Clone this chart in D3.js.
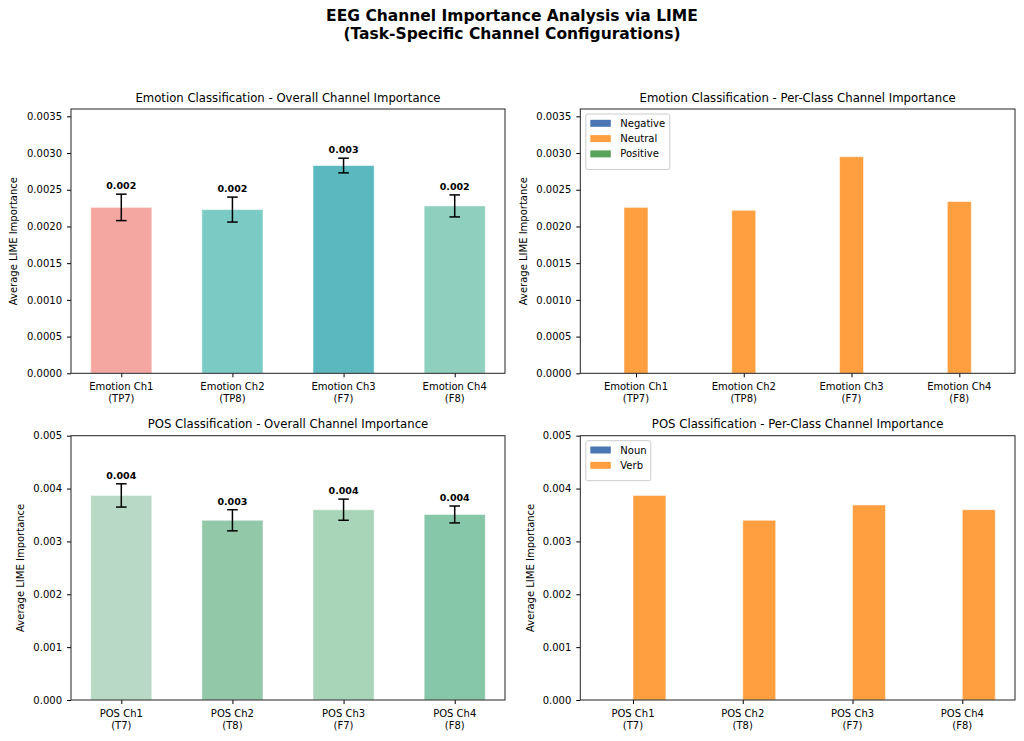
<!DOCTYPE html>
<html>
<head>
<meta charset="utf-8">
<script src="https://cdn.jsdelivr.net/npm/d3@7"></script>
<style>
  html, body { margin: 0; padding: 0; background: #fff; }
  svg { display: block; font-family: "DejaVu Sans", sans-serif; }
</style>
</head>
<body>
<svg id="chart" width="1024" height="741"></svg>
<script>
// ---------------- data ----------------
const emotionChannels = ["Emotion Ch1", "Emotion Ch2", "Emotion Ch3", "Emotion Ch4"];
const emotionElectrodes = ["TP7", "TP8", "F7", "F8"];
const emotionMean = [0.00226, 0.00223, 0.00283, 0.00228];
const emotionStd = [0.00018, 0.00017, 0.00010, 0.00015];
const emotionColors = ["#f4a6a1", "#7ccac4", "#5cb8bf", "#8ecfbd"];

const emotionClasses = ["Negative", "Neutral", "Positive"];
const emotionNegative = [0, 0, 0, 0];
const emotionNeutral = [0.00226, 0.00222, 0.00295, 0.00234];
const emotionPositive = [0, 0, 0, 0];

const posChannels = ["POS Ch1", "POS Ch2", "POS Ch3", "POS Ch4"];
const posElectrodes = ["T7", "T8", "F7", "F8"];
const posMean = [0.00387, 0.00340, 0.00360, 0.00351];
const posStd = [0.00022, 0.00020, 0.00020, 0.00016];
const posColors = ["#b8d9c6", "#92c8a8", "#a8d5b8", "#87c7a9"];

const posClasses = ["Noun", "Verb"];
const posNoun = [0, 0, 0, 0];
const posVerb = [0.00387, 0.00340, 0.00369, 0.00360];

const classColors = ["#4a77b4", "#ff9f40", "#59a45a"];

const emotionTicks = [0, 0.0005, 0.0010, 0.0015, 0.0020, 0.0025, 0.0030, 0.0035];
const posTicks = [0, 0.001, 0.002, 0.003, 0.004, 0.005];

// ---------------- layout ----------------
const svg = d3.select("#chart");
const W = 1024;

svg.append("text").attr("x", W / 2).attr("y", 20.5)
  .attr("text-anchor", "middle").attr("font-size", 15.5).attr("font-weight", "bold")
  .text("EEG Channel Importance Analysis via LIME");
svg.append("text").attr("x", W / 2).attr("y", 38.5)
  .attr("text-anchor", "middle").attr("font-size", 15.5).attr("font-weight", "bold")
  .text("(Task-Specific Channel Configurations)");

const colL = [71, 505], colR = [580.3, 1015];
const rowT = [109, 373.3], rowB = [435.7, 700];

function panel(opts) {
  const { xr, yr, title, channels, electrodes, ymax, ticks, fmt, ylabelX } = opts;
  const g = svg.append("g");
  const n = opts.series.length;
  const w = opts.barWidth;
  const lo = -((n - 1) / 2) * w - w / 2, hi = 3 + ((n - 1) / 2) * w + w / 2;
  const span = hi - lo;
  const x = d3.scaleLinear().domain([lo - 0.05 * span, hi + 0.05 * span]).range(xr);
  const y = d3.scaleLinear().domain([0, ymax]).range([yr[1], yr[0]]);

  // bars
  opts.series.forEach((vals, si) => {
    const off = (si - (n - 1) / 2) * w;
    g.selectAll(null).data(vals).enter().append("rect")
      .attr("x", (d, i) => x(i + off - w / 2))
      .attr("width", (d, i) => x(i + off + w / 2) - x(i + off - w / 2))
      .attr("y", d => y(d))
      .attr("height", d => y(0) - y(d))
      .attr("fill", (d, i) => opts.colorFn(si, i))
      .attr("stroke", "#fff").attr("stroke-opacity", 0.5).attr("stroke-width", 1);
  });

  // error bars + value labels
  if (opts.std) {
    const m = opts.series[0];
    m.forEach((v, i) => {
      const cx = x(i), t = y(v + opts.std[i]), b = y(v - opts.std[i]);
      g.append("line").attr("x1", cx).attr("x2", cx).attr("y1", t).attr("y2", b)
        .attr("stroke", "#000").attr("stroke-width", 1.5);
      [t, b].forEach(yy => g.append("line").attr("x1", cx - 5.3).attr("x2", cx + 5.3)
        .attr("y1", yy).attr("y2", yy).attr("stroke", "#000").attr("stroke-width", 1.5));
      g.append("text").attr("x", cx).attr("y", t - 5)
        .attr("text-anchor", "middle").attr("font-size", 9.5).attr("font-weight", "bold")
        .text(d3.format(".3f")(v));
    });
  }

  // y axis
  const ya = g.append("g").attr("transform", `translate(${xr[0]},0)`)
    .call(d3.axisLeft(y).tickValues(ticks).tickFormat(fmt).tickSize(4).tickPadding(5));
  ya.select(".domain").remove();
  ya.selectAll("text").attr("font-size", 10).attr("font-family", "DejaVu Sans").attr("fill", "#000");
  ya.selectAll("line").attr("stroke", "#000");

  // x axis
  const xa = g.append("g").attr("transform", `translate(0,${yr[1]})`)
    .call(d3.axisBottom(x).tickValues([0, 1, 2, 3]).tickFormat("").tickSize(4));
  xa.select(".domain").remove();
  xa.selectAll("line").attr("stroke", "#000");
  channels.forEach((c, i) => {
    const t = g.append("text").attr("x", x(i)).attr("y", yr[1] + 17)
      .attr("text-anchor", "middle").attr("font-size", 10).attr("fill", "#000");
    t.append("tspan").attr("x", x(i)).attr("dy", 0).text(c);
    t.append("tspan").attr("x", x(i)).attr("dy", 11.8).text("(" + electrodes[i] + ")");
  });

  // frame
  g.append("rect").attr("x", xr[0]).attr("y", yr[0])
    .attr("width", xr[1] - xr[0]).attr("height", yr[1] - yr[0])
    .attr("fill", "none").attr("stroke", "#222").attr("stroke-width", 1);

  // title
  g.append("text").attr("x", (xr[0] + xr[1]) / 2).attr("y", yr[0] - 7.5)
    .attr("text-anchor", "middle").attr("font-size", 11.7).text(title);

  // y label
  const cy = (yr[0] + yr[1]) / 2;
  g.append("text").attr("transform", `translate(${ylabelX},${cy}) rotate(-90)`)
    .attr("text-anchor", "middle").attr("dominant-baseline", "central")
    .attr("font-size", 10).text("Average LIME Importance");

  // legend
  if (opts.legend) {
    const lx = xr[0] + 5.5, ly = yr[0] + 5;
    const rows = opts.legend.length;
    const bw = opts.legendWidth, bh = 10 + rows * 15.5 - 1;
    g.append("rect").attr("x", lx).attr("y", ly).attr("width", bw).attr("height", bh)
      .attr("rx", 2).attr("fill", "#fff").attr("fill-opacity", 0.8)
      .attr("stroke", "#ccc").attr("stroke-width", 1);
    opts.legend.forEach((name, i) => {
      const ry = ly + 9.3 + i * 15.3;
      g.append("rect").attr("x", lx + 4.5).attr("y", ry - 3.5).attr("width", 20.5).attr("height", 7)
        .attr("fill", classColors[i]);
      g.append("text").attr("x", lx + 34.5).attr("y", ry).attr("dominant-baseline", "central")
        .attr("font-size", 10).text(name);
    });
  }
}

const fmt4 = d3.format(".4f"), fmt3 = d3.format(".3f");

panel({
  xr: colL, yr: rowT, title: "Emotion Classification - Overall Channel Importance",
  channels: emotionChannels, electrodes: emotionElectrodes, ymax: 0.0036,
  ticks: emotionTicks, fmt: fmt4, ylabelX: 13.8,
  series: [emotionMean], std: emotionStd, barWidth: 0.55,
  colorFn: (s, i) => emotionColors[i]
});
panel({
  xr: colR, yr: rowT, title: "Emotion Classification - Per-Class Channel Importance",
  channels: emotionChannels, electrodes: emotionElectrodes, ymax: 0.0036,
  ticks: emotionTicks, fmt: fmt4, ylabelX: 523.3,
  series: [emotionNegative, emotionNeutral, emotionPositive], barWidth: 2 / 9,
  colorFn: (s, i) => classColors[s], legend: emotionClasses, legendWidth: 84
});
panel({
  xr: colL, yr: rowB, title: "POS Classification - Overall Channel Importance",
  channels: posChannels, electrodes: posElectrodes, ymax: 0.005,
  ticks: posTicks, fmt: fmt3, ylabelX: 20.5,
  series: [posMean], std: posStd, barWidth: 0.55,
  colorFn: (s, i) => posColors[i]
});
panel({
  xr: colR, yr: rowB, title: "POS Classification - Per-Class Channel Importance",
  channels: posChannels, electrodes: posElectrodes, ymax: 0.005,
  ticks: posTicks, fmt: fmt3, ylabelX: 530,
  series: [posNoun, posVerb], barWidth: 0.3,
  colorFn: (s, i) => classColors[s], legend: posClasses, legendWidth: 65
});
</script>
</body>
</html>
